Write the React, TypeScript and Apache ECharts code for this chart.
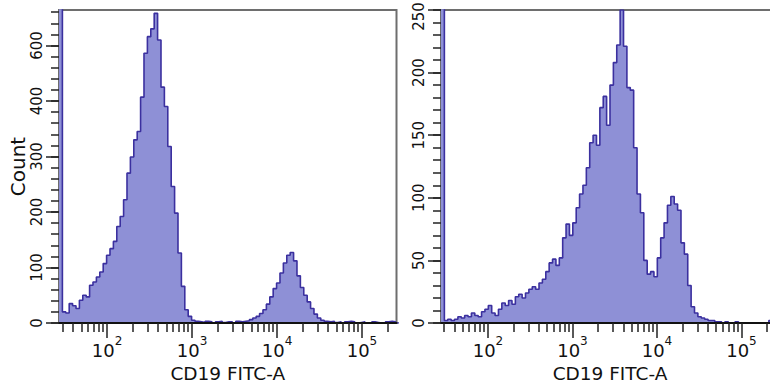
import React, { useEffect, useRef } from "react";
import * as echarts from "echarts";

// Histogram counts, one value per bin (bins are 0.04 decade wide, starting at the axis minimum)
const leftCounts = [
  900, 20, 18, 35, 31, 26, 41, 50, 47, 68,
  74, 83, 92, 107, 122, 134, 147, 174, 192, 222,
  270, 299, 330, 345, 407, 486, 516, 530, 558, 510,
  425, 390, 318, 246, 198, 126, 66, 24, 12, 5,
  3, 2, 1, 3, 2, 0, 2, 3, 1, 2,
  2, 0, 3, 2, 3, 4, 6, 9, 12, 17,
  24, 34, 47, 62, 72, 90, 108, 122, 127, 112,
  85, 64, 50, 38, 26, 16, 9, 5, 3, 2,
  3, 1, 2, 0, 2, 3, 2, 0, 1, 2,
  0, 0, 2, 1, 0, 0, 2, 3, 2, 0,
];

const rightCounts = [
  900, 2, 3, 2, 3, 5, 4, 6, 5, 8,
  6, 5, 9, 11, 14, 8, 6, 11, 16, 14,
  18, 15, 21, 23, 20, 24, 27, 29, 27, 32,
  35, 41, 48, 51, 46, 52, 68, 79, 70, 80,
  92, 103, 110, 124, 144, 150, 142, 172, 181, 158,
  190, 208, 222, 250, 221, 188, 186, 140, 103, 88,
  50, 39, 41, 37, 52, 68, 80, 94, 101, 95,
  90, 64, 55, 30, 13, 8, 5, 4, 3, 2,
  2, 1, 1, 0, 1, 0, 0, 1, 0, 0,
  0, 0, 0, 0, 0, 0, 0, 2, 1, 0,
  0,
];

const decadeExponents = [2, 3, 4, 5];
const minorMultipliers = [2, 3, 4, 5, 6, 7, 8, 9];
const leftYMajor = [0, 100, 200, 300, 400, 500];
const leftYTickLabels = ["0", "100", "200", "300", "400", "600"];
const rightYMajor = [0, 50, 100, 150, 200, 250];
const rightYTickLabels = ["0", "50", "100", "150", "200", "250"];
const xAxisTitle = "CD19 FITC-A";
const yAxisTitle = "Count";

const binWidth = 0.04;
const leftXMin = 1.435;
const leftXMax = 5.406;
const rightXMin = 1.444;
const rightXMax = 5.444;
const leftYMax = 564;
const rightYMax = 250;

const FILL = "#8e90d6";
const LINE = "#3b309f";
const FONT = "DejaVu Sans";

function binPairs(start: number, counts: number[]) {
  const pts = counts.map((c, i) => [start + i * binWidth, c]);
  pts.push([start + counts.length * binWidth, counts[counts.length - 1]]);
  return pts;
}

function minorLogTicks(min: number, max: number) {
  const out: number[] = [];
  for (let n = 1; n <= 5; n++) {
    for (const k of minorMultipliers) {
      const v = Math.log10(k * Math.pow(10, n));
      if (v >= min && v <= max) out.push(v);
    }
  }
  return out;
}

function range(step: number, max: number) {
  const out: number[] = [];
  for (let v = 0; v <= max + 1e-9; v += step) out.push(v);
  return out;
}

function xAxes(gridIndex: number, min: number, max: number) {
  return [
    {
      type: "value",
      gridIndex,
      position: "bottom",
      min,
      max,
      z: 5,
      name: xAxisTitle,
      nameLocation: "middle",
      nameGap: 41,
      nameTextStyle: { fontFamily: FONT, fontSize: 18.5, color: "#111" },
      axisLine: { show: true, lineStyle: { color: "#111", width: 2 } },
      axisTick: {
        show: true,
        inside: false,
        length: 15,
        customValues: decadeExponents.filter((v) => v >= min && v <= max),
        lineStyle: { color: "#222", width: 1.5 },
      },
      axisLabel: {
        show: true,
        margin: 12,
        customValues: decadeExponents.filter((v) => v >= min && v <= max),
        formatter: (v: number) => "{b|10}{s|" + Math.round(v) + "}",
        rich: {
          b: { fontFamily: FONT, fontSize: 18, color: "#111", padding: [6, 0, 0, 0], verticalAlign: "bottom" },
          s: { fontFamily: FONT, fontSize: 12, color: "#111", verticalAlign: "top" },
        },
      },
      splitLine: { show: false },
    },
    {
      type: "value",
      gridIndex,
      position: "bottom",
      min,
      max,
      z: 5,
      axisLine: { show: false },
      axisTick: {
        show: true,
        inside: false,
        length: 9,
        customValues: minorLogTicks(min, max),
        lineStyle: { color: "#222", width: 1.5 },
      },
      axisLabel: { show: false },
      splitLine: { show: false },
    },
  ];
}

function yAxes(gridIndex: number, max: number, major: number[], labels: string[], minorStep: number, withName: boolean) {
  return [
    {
      type: "value",
      gridIndex,
      position: "left",
      min: 0,
      max,
      z: 5,
      name: withName ? yAxisTitle : "",
      nameLocation: "middle",
      nameGap: 30,
      nameTextStyle: { fontFamily: FONT, fontSize: 20, color: "#111" },
      axisLine: { show: false },
      axisTick: {
        show: true,
        inside: false,
        length: 13,
        customValues: major,
        lineStyle: { color: "#222", width: 1.5 },
      },
      axisLabel: {
        show: true,
        rotate: 90,
        margin: 15,
        customValues: major,
        fontFamily: FONT,
        fontSize: 15,
        color: "#111",
        formatter: (v: number) => {
          const text = labels[major.indexOf(Math.round(v))] ?? "";
          // a label that sits at the very top edge is nudged down, as in the reference
          return Math.round(v) >= max ? "{t|" + text + "}" : text;
        },
        rich: {
          t: { fontFamily: FONT, fontSize: 15, color: "#111", padding: [0, 13, 0, 0] },
        },
      },
      splitLine: { show: false },
    },
    {
      type: "value",
      gridIndex,
      position: "left",
      min: 0,
      max,
      z: 5,
      axisLine: { show: false },
      axisTick: {
        show: true,
        inside: false,
        length: 8,
        customValues: range(minorStep, max),
        lineStyle: { color: "#222", width: 1.5 },
      },
      axisLabel: { show: false },
      splitLine: { show: false },
    },
  ];
}

export default function App() {
  const ref = useRef<HTMLDivElement>(null);

  useEffect(() => {
    document.body.style.margin = "0";
    if (!ref.current) return;
    const chart = echarts.init(ref.current, null, { renderer: "svg" });
    const gridStyle = {
      show: true,
      borderColor: "#6e6e6e",
      borderWidth: 2,
      backgroundColor: "transparent",
      containLabel: false,
      outerBoundsMode: "none",
    };
    const seriesStyle = {
      type: "line",
      step: "end",
      symbol: "none",
      clip: true,
      lineStyle: { color: LINE, width: 1.6 },
      areaStyle: { color: FILL, opacity: 1 },
      silent: true,
    };
    chart.setOption({
      animation: false,
      grid: [
        { ...gridStyle, left: 59, top: 10, width: 337.5, height: 313 },
        { ...gridStyle, left: 441, top: 10, width: 338, height: 313 },
      ],
      xAxis: [...xAxes(0, leftXMin, leftXMax), ...xAxes(1, rightXMin, rightXMax)],
      yAxis: [
        ...yAxes(0, leftYMax, leftYMajor, leftYTickLabels, 20, true),
        ...yAxes(1, rightYMax, rightYMajor, rightYTickLabels, 10, false),
      ],
      series: [
        { ...seriesStyle, xAxisIndex: 0, yAxisIndex: 0, data: binPairs(leftXMin, leftCounts) },
        { ...seriesStyle, xAxisIndex: 2, yAxisIndex: 2, data: binPairs(rightXMin, rightCounts) },
      ],
    });
    return () => chart.dispose();
  }, []);

  return <div ref={ref} style={{ width: 770, height: 389 }} />;
}
